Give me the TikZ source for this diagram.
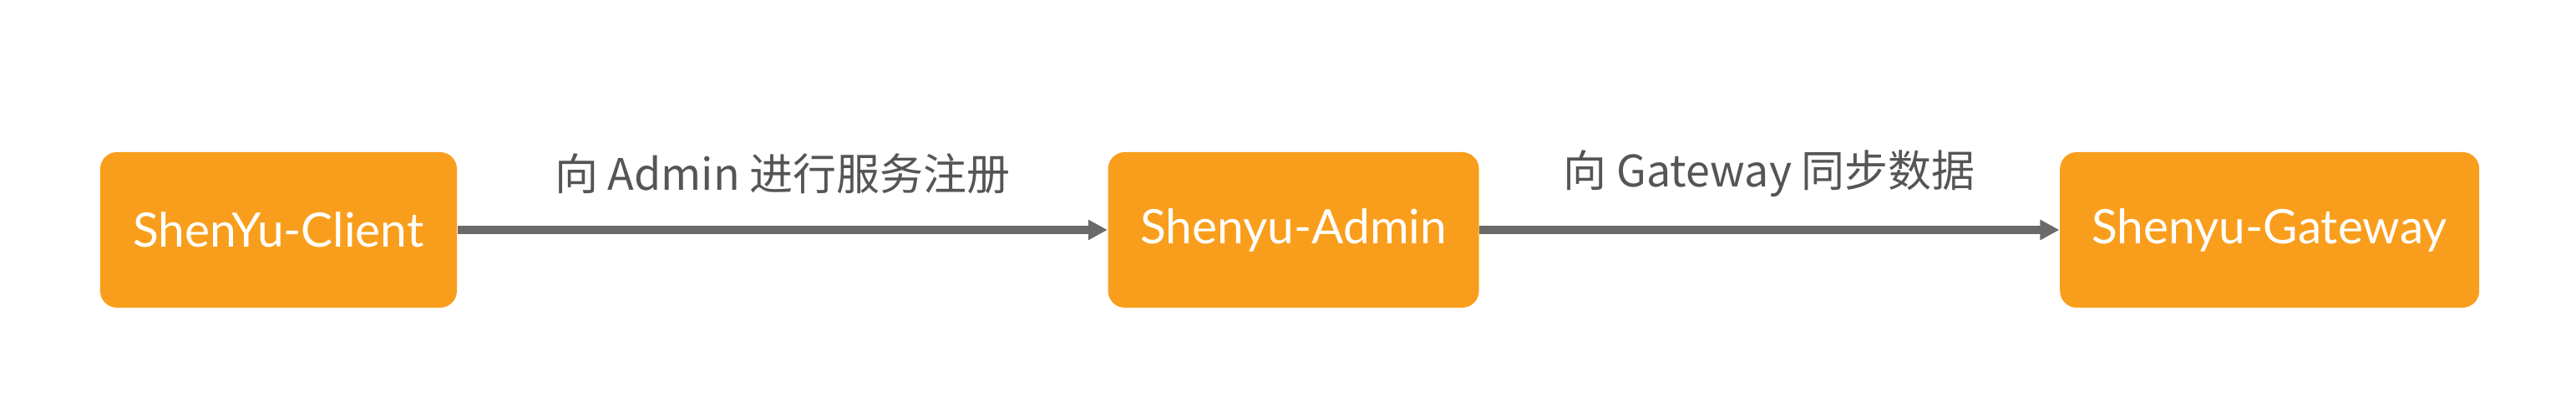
\documentclass[tikz,border=0pt]{standalone}
\usepackage{fontspec}
\setmainfont{Lato}
\newfontfamily\cjk{Noto Sans CJK SC}
\usepackage{tikz}
\usetikzlibrary{positioning, arrows.meta}
\definecolor{boxorange}{RGB}{249,158,28}
\definecolor{linegray}{RGB}{106,106,106}
\definecolor{textgray}{RGB}{85,85,85}
\tikzset{
  every picture/.style={>={Triangle[length=5.75pt,width=5.75pt]}},
  module/.style={rectangle, rounded corners=5pt, fill=boxorange, draw=none,
    minimum height=46.5pt, inner sep=0pt, text=white,
    font=\fontsize{14.2pt}{16pt}\selectfont},
  flow/.style={->, line width=2.5pt, draw=linegray},
  lbl/.style={yshift=16.75pt, text=textgray, font=\cjk\fontsize{13pt}{15pt}\selectfont},
}

\begin{document}
\begin{tikzpicture}
  \useasboundingbox (-83.375pt,-53.25pt) rectangle (687.625pt,68.75pt);

  % modules
  \node[module, minimum width=106.75pt] (client) {ShenYu-Client};
  \node[module, minimum width=111pt, right=194.5pt of client] (admin) {Shenyu-Admin};
  \node[module, minimum width=125.5pt, right=173.5pt of admin] (gateway) {Shenyu-Gateway};

  % flows
  \draw[flow] (client) -- node[lbl]{向 Admin 进行服务注册} (admin);
  \draw[flow] (admin) -- node[lbl]{向 Gateway 同步数据} (gateway);
\end{tikzpicture}
\end{document}
